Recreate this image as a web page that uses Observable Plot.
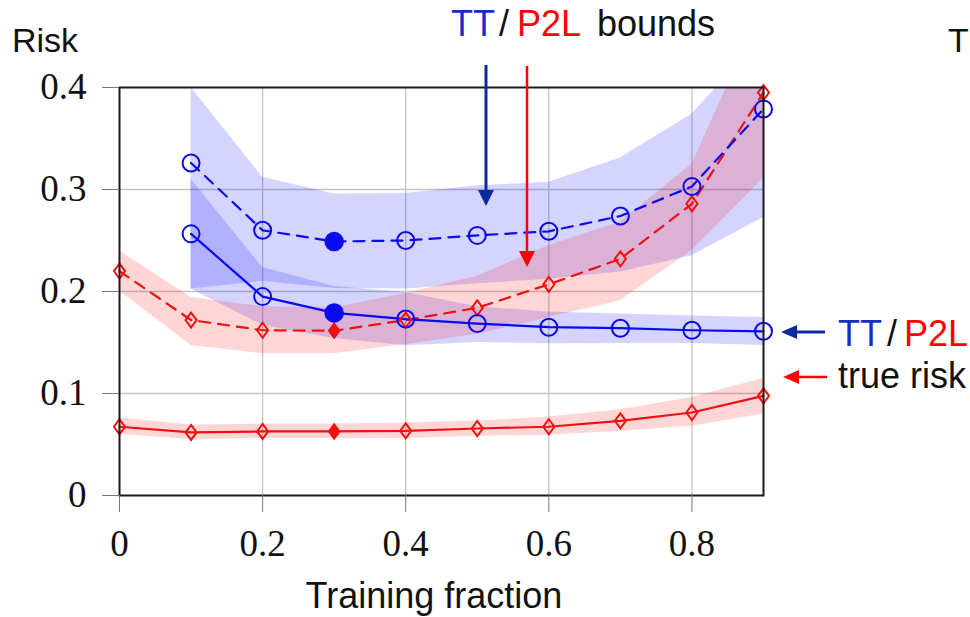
<!DOCTYPE html>
<html><head><meta charset="utf-8">
<script src="https://cdn.jsdelivr.net/npm/d3@7"></script>
<script src="https://cdn.jsdelivr.net/npm/@observablehq/plot@0.6"></script>
<style>html,body{margin:0;padding:0;background:#fff}svg{display:block}</style>
</head><body><div id="chart"></div>
<script>
// ---- data ----
const ttX        = [0.1, 0.2, 0.3, 0.4, 0.5, 0.6, 0.7, 0.8, 0.9];
const ttBound    = [0.326, 0.260, 0.249, 0.250, 0.255, 0.259, 0.274, 0.303, 0.379];
const ttBoundLo  = [0.2025, 0.210, 0.203, 0.2025, 0.2075, 0.212, 0.219, 0.235, 0.2725];
const ttBoundHi  = [0.400, 0.312, 0.2955, 0.296, 0.3036, 0.307, 0.331, 0.374, 0.450];
const ttRisk     = [0.2565, 0.195, 0.179, 0.173, 0.1686, 0.165, 0.164, 0.162, 0.161];
const ttRiskLo   = [0.2025, 0.167, 0.154, 0.1467, 0.150, 0.1487, 0.149, 0.149, 0.147];
const ttRiskHi   = [0.310, 0.2235, 0.205, 0.199, 0.185, 0.180, 0.178, 0.176, 0.1745];

const p2lX       = [0, 0.1, 0.2, 0.3, 0.4, 0.5, 0.6, 0.7, 0.8, 0.9];
const p2lBound   = [0.220, 0.172, 0.162, 0.1615, 0.172, 0.184, 0.207, 0.232, 0.286, 0.395];
const p2lBoundLo = [0.2005, 0.147, 0.139, 0.139, 0.148, 0.158, 0.1745, 0.191, 0.240, 0.311];
const p2lBoundHi = [0.240, 0.194, 0.185, 0.184, 0.198, 0.215, 0.245, 0.268, 0.325, 0.480];
const p2lRisk    = [0.0674, 0.0618, 0.0628, 0.0628, 0.0634, 0.0657, 0.0674, 0.0732, 0.0814, 0.0977];
const p2lRiskLo  = [0.060, 0.055, 0.056, 0.056, 0.056, 0.058, 0.059, 0.063, 0.068, 0.080];
const p2lRiskHi  = [0.076, 0.069, 0.070, 0.070, 0.071, 0.073, 0.077, 0.084, 0.096, 0.115];

const highlightX = 0.3;
const xTicks = [0, 0.2, 0.4, 0.6, 0.8];
const yTicks = [0, 0.1, 0.2, 0.3, 0.4];
const xGrid = [0.2, 0.4, 0.6, 0.8];
const yGrid = [0.1, 0.2, 0.3];

// ---- tables ----
const tt = ttX.map((x, i) => ({x, b: ttBound[i], bLo: ttBoundLo[i], bHi: ttBoundHi[i], r: ttRisk[i], rLo: ttRiskLo[i], rHi: ttRiskHi[i]}));
const p2l = p2lX.map((x, i) => ({x, b: p2lBound[i], bLo: p2lBoundLo[i], bHi: p2lBoundHi[i], r: p2lRisk[i], rLo: p2lRiskLo[i], rHi: p2lRiskHi[i]}));

const BLUE = "#0a0af0", RED = "#f01010", NAVY = "#0c2aa0";
const diamond = {draw(ctx, size) {
  const r = Math.sqrt(size / Math.PI), w = r * 0.74;
  ctx.moveTo(0, -r); ctx.lineTo(w, 0); ctx.lineTo(0, r); ctx.lineTo(-w, 0); ctx.closePath();
}};
const isHi = d => Math.abs(d.x - highlightX) < 1e-9;

const chart = Plot.plot({
  width: 970, height: 617,
  marginLeft: 119, marginRight: 207, marginTop: 87, marginBottom: 122,
  style: {fontFamily: "'Liberation Serif', serif", background: "white", overflow: "visible"},
  x: {domain: [0, 0.9]},
  y: {domain: [0, 0.4]},
  marks: [
    Plot.gridX(xGrid, {stroke: "#c4c4c4", strokeOpacity: 1, strokeWidth: 1.3}),
    Plot.gridY(yGrid, {stroke: "#c4c4c4", strokeOpacity: 1, strokeWidth: 1.3}),
    // bands
    Plot.areaY(tt, {x: "x", y1: "bLo", y2: "bHi", fill: "#0000ff", fillOpacity: 0.17, clip: true}),
    Plot.areaY(tt, {x: "x", y1: "rLo", y2: "rHi", fill: "#0000ff", fillOpacity: 0.17, clip: true}),
    Plot.areaY(p2l, {x: "x", y1: "bLo", y2: "bHi", fill: "#ff0000", fillOpacity: 0.16, clip: true}),
    Plot.areaY(p2l, {x: "x", y1: "rLo", y2: "rHi", fill: "#ff0000", fillOpacity: 0.16, clip: true}),
    // lines
    Plot.line(p2l, {x: "x", y: "r", stroke: RED, strokeWidth: 2.2}),
    Plot.line(p2l, {x: "x", y: "b", stroke: RED, strokeWidth: 2.2, strokeDasharray: "11,8"}),
    Plot.line(tt, {x: "x", y: "r", stroke: BLUE, strokeWidth: 2.2}),
    Plot.line(tt, {x: "x", y: "b", stroke: BLUE, strokeWidth: 2.2, strokeDasharray: "11,8"}),
    // open markers
    Plot.dot(p2l, {x: "x", y: "r", symbol: diamond, r: 7.5, stroke: RED, strokeWidth: 2, fill: "none", filter: d => !isHi(d)}),
    Plot.dot(p2l, {x: "x", y: "b", symbol: diamond, r: 7.5, stroke: RED, strokeWidth: 2, fill: "none", filter: d => !isHi(d)}),
    Plot.dot(tt, {x: "x", y: "r", r: 8.5, stroke: BLUE, strokeWidth: 2, fill: "none", filter: d => !isHi(d)}),
    Plot.dot(tt, {x: "x", y: "b", r: 8.5, stroke: BLUE, strokeWidth: 2, fill: "none", filter: d => !isHi(d)}),
    // highlighted filled markers
    Plot.dot(p2l, {x: "x", y: "r", symbol: diamond, r: 7.5, stroke: RED, strokeWidth: 1.5, fill: RED, filter: isHi}),
    Plot.dot(p2l, {x: "x", y: "b", symbol: diamond, r: 7.5, stroke: RED, strokeWidth: 1.5, fill: RED, filter: isHi}),
    Plot.dot(tt, {x: "x", y: "r", r: 9, stroke: BLUE, fill: BLUE, filter: isHi}),
    Plot.dot(tt, {x: "x", y: "b", r: 9, stroke: BLUE, fill: BLUE, filter: isHi}),
    Plot.frame({stroke: "#1a1a1a", strokeWidth: 2}),
    Plot.axisY({ticks: yTicks, tickSize: 17, tickPadding: 16, fontSize: 37, tickFormat: d => String(d), label: null, stroke: "#777", fill: "#111"}),
    Plot.axisX({ticks: xTicks, tickSize: 17, tickPadding: 17, fontSize: 37, tickFormat: d => String(d), label: null, stroke: "#777", fill: "#111"})
  ]
});
document.getElementById("chart").appendChild(chart);

// ---- annotations ----
const svgSel = d3.select(chart);
const g = svgSel.append("g").attr("font-family", "'Liberation Sans', Arial, sans-serif").attr("font-size", 36).attr("fill", "#111").attr("text-anchor", "start");
g.append("text").attr("x", 12).attr("y", 52).attr("font-size", 34).text("Risk");
g.append("text").attr("x", 948).attr("y", 52).attr("font-size", 34).text("T");
g.append("text").attr("x", 434).attr("y", 608).attr("text-anchor", "middle").text("Training fraction");
const topLabel = g.append("text").attr("y", 36);
topLabel.append("tspan").attr("x", 451).attr("fill", "#1530c0").text("TT");
topLabel.append("tspan").attr("x", 499).text("/");
topLabel.append("tspan").attr("x", 517).attr("fill", "#ff0000").text("P2L");
topLabel.append("tspan").attr("x", 597).text("bounds");
const rightLabel = g.append("text").attr("y", 346);
rightLabel.append("tspan").attr("x", 838).attr("fill", "#1530c0").text("TT");
rightLabel.append("tspan").attr("x", 887).text("/");
rightLabel.append("tspan").attr("x", 904).attr("fill", "#ff0000").text("P2L");
g.append("text").attr("x", 838).attr("y", 388).text("true risk");

const arr = svgSel.append("g");
function vArrow(x, y0, tip, color, w) {
  arr.append("line").attr("x1", x).attr("x2", x).attr("y1", y0).attr("y2", tip - 12).attr("stroke", color).attr("stroke-width", w);
  arr.append("path").attr("d", `M${x},${tip}L${x-8},${tip-16}L${x+8},${tip-16}Z`).attr("fill", color);
}
function hArrow(y, tip, x1, color, w) {
  arr.append("line").attr("y1", y).attr("y2", y).attr("x1", tip + 12).attr("x2", x1).attr("stroke", color).attr("stroke-width", w);
  arr.append("path").attr("d", `M${tip},${y}L${tip+16},${y-7}L${tip+16},${y+7}Z`).attr("fill", color);
}
vArrow(486, 65, 206, NAVY, 3);
vArrow(527, 66, 267, "#ff0000", 2.5);
hArrow(332, 781, 825, NAVY, 3);
hArrow(377, 783, 827, "#ff0000", 2.5);
</script></body></html>
